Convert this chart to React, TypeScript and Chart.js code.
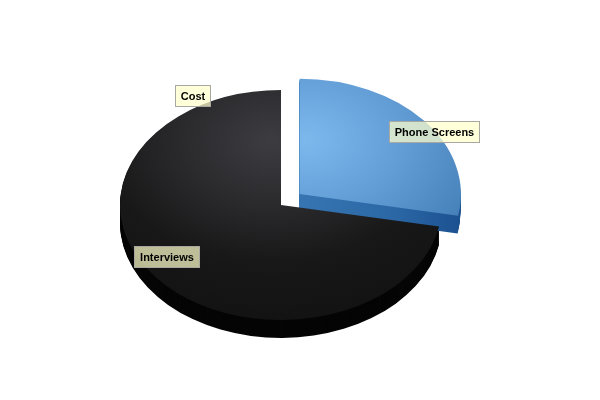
import React, { useEffect, useRef } from "react";
import { Chart, registerables } from "chart.js";

Chart.register(...registerables);

const categories = ["Cost", "Phone Screens", "Interviews"];
const values = [0, 28, 72];
const explode = [0, 96, 0];

const TILT = 0.714;
const DEPTH = 18;

export default function App() {
  const ref = useRef<HTMLCanvasElement | null>(null);

  useEffect(() => {
    document.body.style.margin = "0";
    const canvas = ref.current;
    if (!canvas) return;

    const topFill = (c: any) => {
      const chart = c.chart;
      const area = chart.chartArea;
      const fallback = c.dataIndex === 1 ? "#5f99d3" : "#222";
      if (!area) return fallback;
      const cx = (area.left + area.right) / 2;
      const cy = (area.top + area.bottom) / 2;
      const g = chart.ctx;
      if (c.dataIndex === 1) {
        const gr = g.createRadialGradient(cx + 6, cy - 76, 0, cx + 6, cy - 76, 200);
        gr.addColorStop(0, "#7db8ed");
        gr.addColorStop(0.5, "#629cd5");
        gr.addColorStop(0.88, "#4a84bd");
        gr.addColorStop(1, "#3f78b2");
        return gr;
      }
      const gr = g.createRadialGradient(cx - 10, cy - 90, 0, cx - 10, cy - 90, 260);
      gr.addColorStop(0, "#3d3c41");
      gr.addColorStop(0.35, "#2a2a2d");
      gr.addColorStop(0.65, "#181818");
      gr.addColorStop(1, "#121212");
      return gr;
    };

    const placement = [
      { da: -30, rf: 1.1 },
      { da: 6.5, rf: 1.0 },
      { da: 7.5, rf: 0.84 },
    ];

    const geom = (arc: any) => {
      const o = (arc.options.offset || 0) / 4;
      const half = (arc.startAngle + arc.endAngle) / 2;
      return {
        x: arc.x + Math.cos(half) * o,
        y: arc.y + Math.sin(half) * o * TILT,
        r: arc.outerRadius,
        s: arc.startAngle,
        e: arc.endAngle,
      };
    };

    const pie3d = {
      id: "pie3d",
      beforeDatasetsDraw(chart: any) {
        const ctx: CanvasRenderingContext2D = chart.ctx;
        const arcs = chart.getDatasetMeta(0).data as any[];
        const order = [2, 1];
        for (const i of order) {
          const arc = arcs[i];
          if (!arc || arc.circumference === 0) continue;
          const g = geom(arc);
          let fill: any = "#050505";
          if (i === 1) {
            const lg = ctx.createLinearGradient(g.x, 0, g.x + g.r, 0);
            lg.addColorStop(0, "#3674b2");
            lg.addColorStop(0.6, "#2b67a5");
            lg.addColorStop(1, "#1c5190");
            fill = lg;
          }
          ctx.save();
          ctx.fillStyle = fill;
          for (let d = DEPTH; d >= 1; d--) {
            ctx.beginPath();
            ctx.moveTo(g.x, g.y + d);
            ctx.ellipse(g.x, g.y + d, g.r, g.r * TILT, 0, g.s, g.e);
            ctx.closePath();
            ctx.fill();
          }
          ctx.restore();
        }
        const a0 = arcs[0];
        ctx.save();
        ctx.translate(a0.x, a0.y);
        ctx.scale(1, TILT);
        ctx.translate(-a0.x, -a0.y);
      },
      afterDatasetsDraw(chart: any) {
        const ctx: CanvasRenderingContext2D = chart.ctx;
        ctx.restore();
        const arcs = chart.getDatasetMeta(0).data as any[];
        ctx.save();
        ctx.font = "bold 11px 'Liberation Sans', Arial, sans-serif";
        ctx.textAlign = "center";
        ctx.textBaseline = "middle";
        arcs.forEach((arc: any, i: number) => {
          const g = geom(arc);
          const base = arc.circumference === 0 ? g.s : (g.s + g.e) / 2;
          const p = placement[i];
          const a = base + (p.da * Math.PI) / 180;
          const px = g.x + g.r * p.rf * Math.cos(a);
          const py = g.y + g.r * p.rf * TILT * Math.sin(a);
          const text = categories[i];
          const w = Math.round(ctx.measureText(text).width + 11);
          const h = 21;
          const bx = Math.round(px - w / 2) + 0.5;
          const by = Math.round(py - h / 2) + 0.5;
          ctx.fillStyle = "rgba(255,255,204,0.72)";
          ctx.fillRect(bx, by, w, h);
          ctx.strokeStyle = "#a8a8a0";
          ctx.lineWidth = 1;
          ctx.strokeRect(bx, by, w, h);
          ctx.fillStyle = "#000";
          ctx.fillText(text, bx + w / 2, by + h / 2 + 0.5);
        });
        ctx.restore();
      },
    };

    const chart = new Chart(canvas, {
      type: "pie",
      data: {
        labels: categories,
        datasets: [
          {
            data: values,
            backgroundColor: topFill as any,
            borderWidth: 0,
            offset: explode,
          },
        ],
      },
      options: {
        responsive: false,
        animation: false,
        events: [],
        radius: 161,
        layout: { padding: { left: 0, right: 38, top: 10, bottom: 0 } },
        plugins: {
          legend: { display: false },
          tooltip: { enabled: false },
        },
      } as any,
      plugins: [pie3d],
    });
    return () => chart.destroy();
  }, []);

  return (
    <div style={{ width: 600, height: 400, background: "#fff" }}>
      <canvas ref={ref} width={600} height={400} />
    </div>
  );
}
